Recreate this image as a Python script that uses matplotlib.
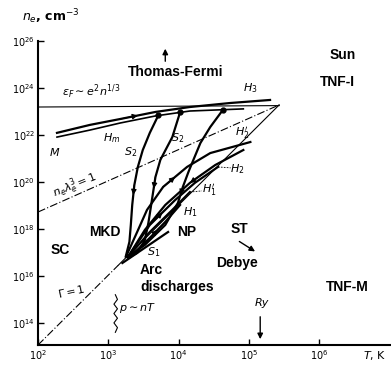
import numpy as np
import matplotlib.pyplot as plt

# ==========================================================
# DATA  (log10 T [K], log10 n_e [cm^-3])
# ==========================================================

x_decades = [2, 3, 4, 5, 6]
y_decades = [14, 16, 18, 20, 22, 24, 26]

# straight boundaries meeting at the apex
eps_F_T = [2.0, 5.43]
eps_F_n = [23.19, 23.25]

degen_T = [2.0, 5.43]
degen_n = [18.72, 23.28]

gamma_dash_T = [2.0, 3.14]
gamma_dash_n = [13.06, 16.45]
gamma_T = [3.14, 5.43]
gamma_n = [16.45, 23.28]

# double line H_m (melting)
hm_up_T = [2.27, 2.74, 3.17, 3.67, 4.16, 4.73, 5.30]
hm_up_n = [22.09, 22.43, 22.68, 22.98, 23.19, 23.36, 23.49]
hm_lo_T = [2.27, 2.74, 3.17, 3.67, 4.16, 4.92]
hm_lo_n = [21.91, 22.21, 22.51, 22.81, 23.02, 23.11]

# S2 curves from the double line down to the convergence point
s2a_T = [3.71, 3.59, 3.49, 3.42, 3.37, 3.34, 3.32, 3.30, 3.25]
s2a_n = [22.83, 22.09, 21.36, 20.64, 19.87, 19.02, 18.17, 17.45, 16.85]
s2b_T = [4.02, 3.91, 3.74, 3.67, 3.62, 3.57, 3.52, 3.41, 3.28]
s2b_n = [22.96, 21.91, 20.94, 20.21, 19.23, 18.26, 17.53, 16.98, 16.77]
s2c_T = [4.63, 4.45, 4.31, 4.21, 4.14, 4.06, 3.99, 3.81, 3.52, 3.28]
s2c_n = [23.07, 22.34, 21.66, 20.94, 20.43, 19.79, 19.11, 18.17, 17.32, 16.81]

# H curves fanning out from the convergence point
h2pa_T = [3.25, 3.41, 3.55, 3.78, 4.12, 4.45, 5.02]
h2pa_n = [16.81, 17.87, 18.81, 19.79, 20.64, 21.23, 21.70]
h2pb_T = [3.28, 3.52, 3.81, 4.16, 4.52, 4.92]
h2pb_n = [16.81, 17.96, 19.02, 19.96, 20.72, 21.36]
h2_T = [3.28, 3.59, 3.95, 4.23, 4.56]
h2_n = [16.81, 18.17, 19.23, 19.96, 20.64]
h1p_T = [3.28, 3.59, 3.91, 4.16]
h1p_n = [16.81, 17.87, 18.81, 19.57]
h1_T = [3.31, 3.59, 3.81, 4.02]
h1_n = [16.81, 17.62, 18.30, 19.02]
np_T = [3.20, 3.85]
np_n = [16.55, 17.87]

# dots on the double line
dot_T = [3.71, 4.02, 4.63]
dot_n = [22.83, 22.96, 23.07]

# wavy mark p ~ nT
wave_T = [3.10, 3.13, 3.08, 3.13, 3.08, 3.13, 3.08, 3.13, 3.10]
wave_n = [15.2, 15.0, 14.8, 14.6, 14.4, 14.2, 14.0, 13.8, 13.6]


def P(lt, ln):
    return 10 ** np.asarray(lt, float), 10 ** np.asarray(ln, float)


def pt(lt, ln):
    return (10.0 ** lt, 10.0 ** ln)


# ==========================================================
# FIGURE
# ==========================================================

fig = plt.figure(figsize=(3.91, 3.66), dpi=100)
ax = fig.add_axes([38 / 391, 21 / 366, 353 / 391, 304 / 366])
ax.set_xscale("log")
ax.set_yscale("log")
ax.set_xlim(1e2, 10 ** 7.02)
ax.set_ylim(10 ** 13.06, 1e26)

for s in ["top", "right"]:
    ax.spines[s].set_visible(False)
for s in ["left", "bottom"]:
    ax.spines[s].set_linewidth(1.5)

ax.set_xticks([10.0 ** d for d in x_decades])
ax.set_xticklabels([f"$10^{{{d}}}$" for d in x_decades])
ax.set_yticks([10.0 ** d for d in y_decades])
ax.set_yticklabels([f"$10^{{{d}}}$" for d in y_decades])
ax.minorticks_off()
ax.tick_params(direction="in", length=4, width=1, labelsize=7, pad=2)

thin = dict(color="black", lw=0.8)
thick = dict(color="black", lw=1.6, solid_joinstyle="round")

ax.plot(*P(eps_F_T, eps_F_n), **thin)
ax.plot(*P(degen_T, degen_n), color="black", lw=0.8, dashes=(7, 2, 1, 2))
ax.plot(*P(gamma_dash_T, gamma_dash_n), color="black", lw=0.8, dashes=(7, 2, 1, 2))
ax.plot(*P(gamma_T, gamma_n), **thin)

ax.plot(*P(hm_up_T, hm_up_n), **thick)
ax.plot(*P(hm_lo_T, hm_lo_n), color="black", lw=1.2)

for lt, ln in [(s2a_T, s2a_n), (s2b_T, s2b_n), (s2c_T, s2c_n)]:
    ax.plot(*P(lt, ln), **thick)

for lt, ln in [(h2pa_T, h2pa_n), (h2pb_T, h2pb_n), (h2_T, h2_n),
               (h1p_T, h1p_n), (h1_T, h1_n), (np_T, np_n)]:
    ax.plot(*P(lt, ln), **thick)

ax.plot(*P(dot_T, dot_n), "o", color="black", ms=3.5)
ax.plot(*P(wave_T, wave_n), color="black", lw=0.8)


def arrow_on(lt, ln, i, rev=False):
    a = pt(lt[i], ln[i])
    b = pt((lt[i] + lt[i + 1]) / 2, (ln[i] + ln[i + 1]) / 2)
    if rev:
        a, b = b, a
    ax.annotate("", xy=b, xytext=a,
                arrowprops=dict(arrowstyle="-|>", color="black", lw=0.8,
                                mutation_scale=8, shrinkA=0, shrinkB=0))


arrow_on(s2a_T, s2a_n, 4)
arrow_on(s2b_T, s2b_n, 3)
arrow_on(s2c_T, s2c_n, 5)
arrow_on(h2pa_T, h2pa_n, 3)
arrow_on(h2pb_T, h2pb_n, 3, rev=True)
arrow_on(h2_T, h2_n, 1)
arrow_on(h1_T, h1_n, 1)
arrow_on(hm_up_T, hm_up_n, 2)

# other arrows
arr = dict(arrowstyle="-|>", color="black", lw=1.0, mutation_scale=8)
ax.annotate("", xy=pt(3.81, 25.79), xytext=pt(3.81, 25.02), arrowprops=arr)
ax.annotate("", xy=pt(5.12, 16.98), xytext=pt(4.83, 17.53), arrowprops=arr)
ax.annotate("", xy=pt(5.16, 13.19), xytext=pt(5.16, 14.38), arrowprops=arr)

# leaders for H labels
ax.plot(*P([4.56, 4.74], [20.64, 20.60]), color="black", lw=0.6, dashes=(2, 1.5))
ax.plot(*P([4.16, 4.33], [19.57, 19.62]), color="black", lw=0.6, dashes=(2, 1.5))

# ==========================================================
# TEXT
# ==========================================================

bold = dict(family="Liberation Sans", weight="bold", fontsize=10,
            ha="center", va="center")
small = dict(fontsize=8, ha="center", va="center")


def tx(lt, ln, s, **kw):
    ax.text(10.0 ** lt, 10.0 ** ln, s, **kw)


tx(3.96, 24.68, "Thomas-Fermi", **bold)
tx(6.33, 25.40, "Sun", **bold)
tx(6.26, 24.26, "TNF-I", **bold)
tx(2.95, 17.87, "MKD", **bold)
tx(2.31, 17.11, "SC", **bold)
tx(4.12, 17.87, "NP", **bold)
tx(4.86, 18.00, "ST", **bold)
tx(4.83, 16.55, "Debye", **bold)
tx(6.40, 15.53, "TNF-M", **bold)
tx(3.45, 16.26, "Arc", **dict(bold, ha="left"))
tx(3.45, 15.53, "discharges", **dict(bold, ha="left"))

tx(2.34, 23.83, r"$\varepsilon_F\sim e^2n^{1/3}$", **dict(small, ha="left"))
tx(2.53, 19.85, r"$n_e\lambda_e^3=1$", rotation=22, **small)
tx(2.48, 15.36, r"$\Gamma=1$", rotation=12, **small)
tx(3.42, 14.64, r"$p\sim nT$", **small)
tx(5.19, 14.85, "Ry", style="italic", **small)
tx(3.05, 21.87, r"$H_m$", **small)
tx(2.24, 21.28, r"$M$", **small)
tx(3.31, 21.28, r"$S_2$", **small)
tx(3.98, 21.87, r"$S_2$", **small)
tx(3.64, 17.02, r"$S_1$", **small)
tx(5.02, 24.00, r"$H_3$", **small)
tx(4.90, 22.09, r"$H_2'$", **small)
tx(4.84, 20.55, r"$H_2$", **small)
tx(4.44, 19.66, r"$H_1'$", **small)
tx(4.16, 18.72, r"$H_1$", **small)

fig.text(22 / 391, 1 - 17 / 366, r"$n_e$, cm$^{-3}$", fontsize=9,
         weight="bold", ha="left", va="center")
fig.text(375 / 391, 1 - 355 / 366, r"$T$, K", fontsize=8,
         ha="center", va="center")

fig.savefig("out.png", dpi=100)
